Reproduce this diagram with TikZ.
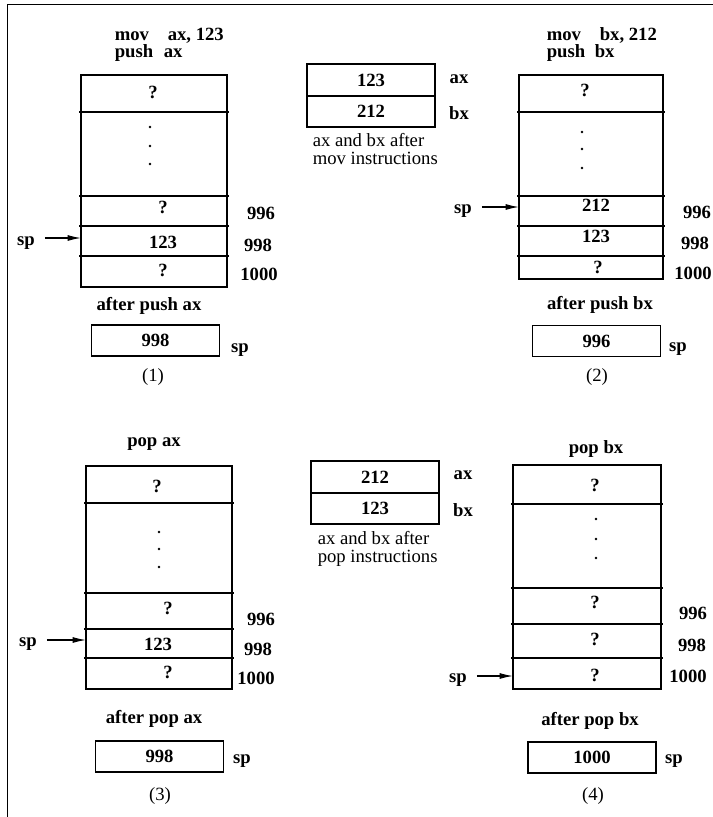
\documentclass[tikz,border=0pt]{standalone}
\usepackage{fontspec}
\setmainfont{Liberation Serif}
\usetikzlibrary{arrows.meta}
\begin{document}
\begin{tikzpicture}[x=0.75pt,y=-0.75pt,
  font=\fontsize{14}{16}\selectfont\bfseries,
  line width=1.2pt,
  every node/.style={inner sep=1pt},
  rg/.style={font=\fontsize{14}{16}\selectfont\mdseries},
  ins/.style={anchor=base west, inner sep=0pt},
  arr/.style={-{Latex[length=10pt,width=4.5pt]}, line width=0.9pt},
  spbox/.style={draw, minimum width=96pt, minimum height=23.25pt},
  regcell/.style={draw, minimum width=96pt, minimum height=23.6pt},
  dot/.style={fill=black, draw=none}
]
\useasboundingbox (0,0) rectangle (713,817);
\draw (7.5,817) -- (7.5,4.5) -- (713,4.5);

% ---------------- Panel 1 ----------------
\node[ins] (p1m) at (114,41) {mov};
\node[ins] (p1ma) at (167,41) {ax, 123};
\node[ins] (p1p) at (114,58) {push};
\node[ins] (p1pa) at (163,58) {ax};
\draw (81,75) rectangle (227,287);
\foreach \yy in {112,196,226,256} \draw (79,\yy) -- (229,\yy);
\node (p1q1) at (153,92) {?};
\foreach \yy in {127,146,164} \fill[dot] (150,\yy) circle[radius=1.1pt];
\node (p1q2) at (163,207) {?};
\node (p1v) at (163,242) {123};
\node (p1q3) at (163,270) {?};
\node (p1a1) at (261,213) {996};
\node (p1a2) at (258,245) {998};
\node (p1a3) at (259,274) {1000};
\node (p1sp) at (26,243) {sp};
\coordinate (p1t) at (81,238);
\draw[arr] ([xshift=6pt]p1sp.east |- p1t) -- (p1t);
\node (p1after) at (149,306) {after push ax};
\node[spbox] (p1box) at (155.5,340.5) {998};
\node (p1bsp) at (240,350) {sp};
\node[rg] (p1n) at (153,377) {(1)};

% ---------------- Registers after mov ----------------
\node[regcell] (r1ax) at (371,80) {123};
\node[regcell] (r1bx) at (371,111.5) {212};
\node (r1axl) at (459,79) {ax};
\node (r1bxl) at (459,113.5) {bx};
\node[rg,ins] (r1c1) at (312,146) {ax and bx after};
\node[rg,ins] (r1c2) at (312,164) {mov instructions};

% ---------------- Panel 2 ----------------
\node[ins] (p2m) at (546,41) {mov};
\node[ins] (p2ma) at (599,41) {bx, 212};
\node[ins] (p2p) at (546,58) {push};
\node[ins] (p2pa) at (594,58) {bx};
\draw (519,75) rectangle (663,279);
\foreach \yy in {112,196,226,256} \draw (517,\yy) -- (665,\yy);
\node (p2q1) at (585,90) {?};
\foreach \yy in {132,149,168} \fill[dot] (582,\yy) circle[radius=1.1pt];
\node (p2v1) at (596,205) {212};
\node (p2v2) at (596,236) {123};
\node (p2q3) at (598,267) {?};
\node (p2a1) at (697,212) {996};
\node (p2a2) at (695,243) {998};
\node (p2a3) at (693,273) {1000};
\node (p2sp) at (463,211) {sp};
\coordinate (p2t) at (519,207);
\draw[arr] ([xshift=6pt]p2sp.east |- p2t) -- (p2t);
\node (p2after) at (600,305) {after push bx};
\node[spbox] (p2box) at (596.5,341) {996};
\node (p2bsp) at (678,349) {sp};
\node[rg] (p2n) at (597,377) {(2)};

% ---------------- Panel 3 ----------------
\node (p3t) at (154,444) {pop ax};
\draw (86,466) rectangle (232,689);
\foreach \yy in {503,593,629,658} \draw (84,\yy) -- (234,\yy);
\node (p3q1) at (157,486) {?};
\foreach \yy in {532,549,567} \fill[dot] (159,\yy) circle[radius=1.1pt];
\node (p3q2) at (168,608) {?};
\node (p3v) at (158,644) {123};
\node (p3q3) at (168,672) {?};
\node (p3a1) at (261,619) {996};
\node (p3a2) at (258,649) {998};
\node (p3a3) at (256,678) {1000};
\node (p3sp) at (28,644) {sp};
\coordinate (p3tt) at (86,640);
\draw[arr] ([xshift=6pt]p3sp.east |- p3tt) -- (p3tt);
\node (p3after) at (154,719) {after pop ax};
\node[spbox] (p3box) at (159.5,756.5) {998};
\node (p3bsp) at (242,761) {sp};
\node[rg] (p3n) at (160,796) {(3)};

% ---------------- Registers after pop ----------------
\node[regcell] (r2ax) at (375,477) {212};
\node[regcell] (r2bx) at (375,508.5) {123};
\node (r2axl) at (463,475) {ax};
\node (r2bxl) at (463,510) {bx};
\node[rg,ins] (r2c1) at (317,544) {ax and bx after};
\node[rg,ins] (r2c2) at (317,562) {pop instructions};

% ---------------- Panel 4 ----------------
\node (p4t) at (596,449) {pop bx};
\draw (513,465) rectangle (661,689);
\foreach \yy in {504,588,624,658} \draw (511,\yy) -- (663,\yy);
\node (p4q1) at (595,485) {?};
\foreach \yy in {519,539,558} \fill[dot] (596,\yy) circle[radius=1.1pt];
\node (p4q2) at (595,602) {?};
\node (p4q3) at (595,639) {?};
\node (p4q4) at (595,675) {?};
\node (p4a1) at (693,613) {996};
\node (p4a2) at (692,645) {998};
\node (p4a3) at (688,676) {1000};
\node (p4sp) at (458,680) {sp};
\coordinate (p4tt) at (513,676);
\draw[arr] ([xshift=6pt]p4sp.east |- p4tt) -- (p4tt);
\node (p4after) at (590,721) {after pop bx};
\node[spbox] (p4box) at (592,757.5) {1000};
\node (p4bsp) at (674,761) {sp};
\node[rg] (p4n) at (593,796) {(4)};
\end{tikzpicture}
\end{document}
